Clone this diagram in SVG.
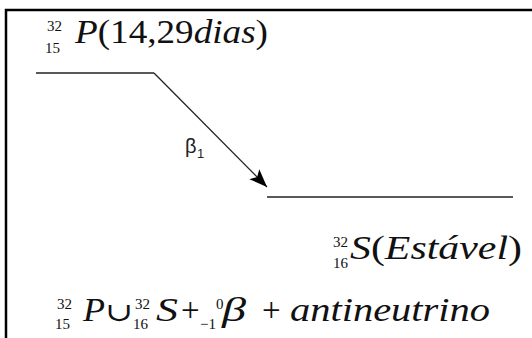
<svg xmlns="http://www.w3.org/2000/svg" width="532" height="338" viewBox="0 0 532 338">
<style>
.s{font-family:"Liberation Serif",Tinos,"Noto Serif","Times New Roman",Times,"DejaVu Serif",FreeSerif,Georgia,serif;fill:#111}
.i{font-style:italic}
.big{font-size:33px}
.sm{font-size:15px}
.lvl{stroke:#222;stroke-width:1.6;fill:none}
.lbl{font-family:"Liberation Sans",Arial,sans-serif;fill:#222}
</style>
<defs>
<marker id="ah" markerUnits="userSpaceOnUse" markerWidth="20" markerHeight="16" refX="18" refY="7" orient="auto">
<path d="M0,0 L18,7 L0,14 L4,7 Z" fill="#000"/>
</marker>
</defs>
<rect width="532" height="338" fill="#fff"/>
<path d="M6,338 V10 H532" fill="none" stroke="#000" stroke-width="2.5"/>
<g id="p32" class="s">
<line class="lvl" x1="36" y1="73" x2="154" y2="73"/>
<text class="sm" x="47" y="31">32</text>
<text class="sm" x="45" y="53">15</text>
<text class="big" x="75" y="43" textLength="193" lengthAdjust="spacingAndGlyphs"><tspan class="i">P</tspan>(14,29<tspan class="i">dias</tspan>)</text>
</g>
<g id="s32" class="s">
<line class="lvl" x1="267" y1="197" x2="513" y2="197"/>
<text class="sm" x="333" y="247">32</text>
<text class="sm" x="333" y="268">16</text>
<text class="big" x="350" y="259" textLength="172" lengthAdjust="spacingAndGlyphs"><tspan class="i">S</tspan>(<tspan class="i">Estável</tspan>)</text>
</g>
<g id="connectors" class="lbl">
<line x1="154" y1="73" x2="267" y2="187" stroke="#222" stroke-width="1.3" marker-end="url(#ah)"/>
<text x="185" y="153" font-size="20">β</text>
<text x="197" y="158" font-size="13">1</text>
</g>
<g id="equation" class="s">
<text class="sm" x="57" y="309">32</text>
<text class="sm" x="55" y="329">15</text>
<text class="big i" x="83" y="321" textLength="22" lengthAdjust="spacingAndGlyphs">P</text>
<text x="105" y="321" font-size="26" textLength="28" lengthAdjust="spacingAndGlyphs">∪</text>
<text class="sm" x="135" y="309">32</text>
<text class="sm" x="133" y="329">16</text>
<text class="big i" x="156" y="321" textLength="22" lengthAdjust="spacingAndGlyphs">S</text>
<text class="big" x="181" y="321">+</text>
<text class="sm" x="216" y="309">0</text>
<text class="sm" x="200" y="329">−1</text>
<text class="big i" x="222" y="321" textLength="24" lengthAdjust="spacingAndGlyphs">β</text>
<text class="big" x="262" y="321">+</text>
<text class="big i" x="290" y="321" textLength="200" lengthAdjust="spacingAndGlyphs">antineutrino</text>
</g>
</svg>
